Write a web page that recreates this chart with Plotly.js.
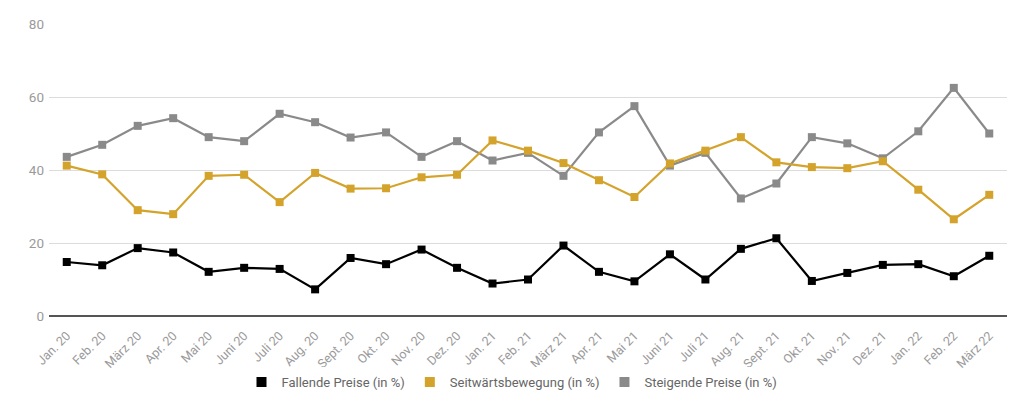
<!DOCTYPE html>
<html>
<head>
<meta charset="utf-8">
<script src="https://cdn.plot.ly/plotly-3.0.1.min.js"></script>
<style>
  html, body { margin: 0; padding: 0; background: #fff; }
  #chart { width: 1024px; height: 406px; }
</style>
</head>
<body>
<div id="chart"></div>
<script>
const months = [
  "Jan. 20", "Feb. 20", "März 20", "Apr. 20", "Mai 20", "Juni 20", "Juli 20",
  "Aug. 20", "Sept. 20", "Okt. 20", "Nov. 20", "Dez. 20",
  "Jan. 21", "Feb. 21", "März 21", "Apr. 21", "Mai 21", "Juni 21", "Juli 21",
  "Aug. 21", "Sept. 21", "Okt. 21", "Nov. 21", "Dez. 21",
  "Jan. 22", "Feb. 22", "März 22"
];

const fallend = [
  14.8, 13.9, 18.6, 17.4, 12.1, 13.2, 12.9, 7.3, 15.9, 14.2, 18.2, 13.2,
  8.9, 10.0, 19.3, 12.1, 9.5, 16.9, 10.0, 18.4, 21.3, 9.6, 11.8, 14.0,
  14.2, 10.9, 16.5
];

const seitwaerts = [
  41.2, 38.8, 29.0, 27.9, 38.4, 38.7, 31.2, 39.2, 34.9, 35.0, 38.0, 38.7,
  48.1, 45.3, 41.9, 37.2, 32.6, 41.8, 45.3, 49.0, 42.1, 40.8, 40.5, 42.4,
  34.6, 26.5, 33.2
];

const steigend = [
  43.6, 46.9, 52.1, 54.2, 49.0, 47.9, 55.4, 53.1, 48.9, 50.3, 43.6, 47.9,
  42.6, 44.7, 38.4, 50.3, 57.5, 41.2, 44.7, 32.2, 36.3, 49.0, 47.3, 43.2,
  50.6, 62.5, 50.0
];

const seriesNames = ["Fallende Preise (in %)", "Seitwärtsbewegung (in %)", "Steigende Preise (in %)"];
const seriesColors = ["#000000", "#d4a32c", "#8a8a8a"];
const seriesValues = [fallend, seitwaerts, steigend];

const traces = [];

// lines drawn back to front: grey, gold, black on top
[2, 1, 0].forEach((i) => {
  traces.push({
    type: "scatter",
    mode: "lines+markers",
    x: months,
    y: seriesValues[i],
    name: seriesNames[i],
    showlegend: false,
    line: { color: seriesColors[i], width: 2.2 },
    marker: { symbol: "square", size: 8, color: seriesColors[i] },
    hoverinfo: "x+y",
  });
});

// legend entries with square only
[0, 1, 2].forEach((i) => {
  traces.push({
    type: "scatter",
    mode: "markers",
    x: [months[0]],
    y: [null],
    name: seriesNames[i],
    marker: { symbol: "square", size: 10, color: seriesColors[i] },
    hoverinfo: "skip",
  });
});

const layout = {
  width: 1024,
  height: 406,
  paper_bgcolor: "#ffffff",
  plot_bgcolor: "#ffffff",
  margin: { l: 49, r: 17, t: 24, b: 90 },
  font: { family: "Roboto, 'Open Sans', sans-serif", color: "#999999" },
  xaxis: {
    type: "category",
    range: [-0.5, 26.5],
    tickangle: -45,
    tickfont: { size: 12.5, color: "#9a9a9a" },
    ticklabelstandoff: 9,
    automargin: false,
    showgrid: false,
    showline: false,
    zeroline: false,
    ticks: "",
    fixedrange: true,
  },
  yaxis: {
    range: [0, 80],
    tickvals: [0, 20, 40, 60, 80],
    tickfont: { size: 13.5, color: "#9a9a9a" },
    ticklabelstandoff: 4,
    automargin: false,
    gridcolor: "#dcdcdc",
    gridwidth: 1,
    zeroline: true,
    zerolinecolor: "#555555",
    zerolinewidth: 1.5,
    ticks: "",
    ticklen: 0,
    fixedrange: true,
  },
  legend: {
    orientation: "h",
    xref: "container",
    yref: "container",
    x: 0.5,
    xanchor: "center",
    y: 0.059,
    yanchor: "middle",
    font: { size: 13, color: "#666666" },
    itemwidth: 30,
    tracegroupgap: 0,
  },
  showlegend: true,
};

Plotly.newPlot("chart", traces, layout, { displayModeBar: false, staticPlot: true });
</script>
</body>
</html>
